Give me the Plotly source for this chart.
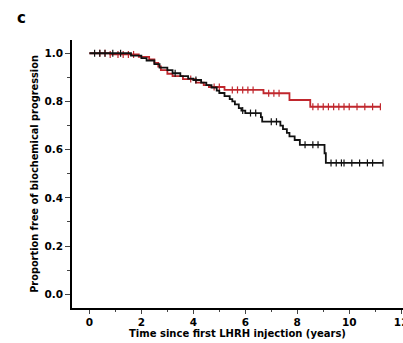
import numpy as np
import plotly.graph_objects as go

# Kaplan-Meier step data (time in years, proportion free)
black_t = [0, 1.6, 2.0, 2.2, 2.5, 2.7, 3.0, 3.2, 3.5, 3.8, 4.0, 4.3, 4.5, 4.7, 4.9, 5.0, 5.2, 5.4,
           5.5, 5.6, 5.75, 5.85, 6.0, 6.6, 6.65, 7.35, 7.45, 7.6, 7.7, 7.9, 8.1, 9.05, 9.1, 11.3]
black_s = [1.0, 0.99, 0.98, 0.97, 0.955, 0.94, 0.93, 0.917, 0.905, 0.895, 0.889, 0.878, 0.868, 0.858,
           0.845, 0.835, 0.822, 0.81, 0.80, 0.788, 0.772, 0.762, 0.752, 0.735, 0.716, 0.70, 0.685,
           0.67, 0.655, 0.64, 0.62, 0.585, 0.545, 0.545]
black_cens = [0.2, 0.4, 0.6, 0.9, 1.2, 3.3, 4.1, 5.9, 6.2, 6.4, 7.0, 7.2, 8.3, 8.6, 8.8, 9.3, 9.5,
              9.7, 9.8, 10.1, 10.4, 10.7, 10.9, 11.3]

red_t = [0, 0.8, 1.9, 2.3, 2.5, 2.65, 2.75, 3.0, 3.2, 3.6, 4.1, 4.4, 4.6, 5.2, 6.7, 7.7, 8.5, 11.2]
red_s = [1.0, 0.995, 0.985, 0.975, 0.96, 0.945, 0.93, 0.915, 0.905, 0.893, 0.878, 0.868, 0.86,
         0.848, 0.834, 0.806, 0.778, 0.778]
red_cens = [0.4, 0.6, 0.8, 1.1, 1.3, 1.5, 1.7, 3.9, 4.8, 5.0, 5.5, 5.7, 5.9, 6.1, 6.3, 6.9, 7.1,
            7.3, 8.6, 8.8, 9.0, 9.2, 9.4, 9.6, 9.8, 10.0, 10.3, 10.6, 10.9, 11.2]

x_ticks = [0, 2, 4, 6, 8, 10, 12]
y_ticks = [0.0, 0.2, 0.4, 0.6, 0.8, 1.0]

RED = "#c0272d"
BLACK = "#111111"


def surv_at(times, steps_t, steps_s):
    idx = np.searchsorted(np.array(steps_t), np.array(times), side="right") - 1
    return [steps_s[i] for i in idx]


fig = go.Figure()
for t, s, c, col in [(red_t, red_s, red_cens, RED), (black_t, black_s, black_cens, BLACK)]:
    fig.add_trace(go.Scatter(x=t, y=s, mode="lines", line=dict(color=col, width=1.8, shape="hv"),
                             showlegend=False, hoverinfo="skip"))
    fig.add_trace(go.Scatter(x=c, y=surv_at(c, t, s), mode="markers",
                             marker=dict(symbol="line-ns", size=5, line=dict(color=col, width=1.2)),
                             showlegend=False))

font = "DejaVu Sans"
fig.update_layout(
    width=403, height=343,
    margin=dict(l=72, r=0, t=40, b=35),
    paper_bgcolor="white", plot_bgcolor="white",
    font=dict(family=font, color="black"),
    xaxis=dict(range=[-0.67, 12.07], tickvals=x_ticks, showline=True, linecolor="black", linewidth=1.5,
               ticks="outside", ticklen=4, tickwidth=1, showgrid=False, zeroline=False,
               ticklabeloverflow="allow", automargin=False,
               tickfont=dict(size=10.5, family=font, weight="bold"),
               minor=dict(ticks="outside", ticklen=2, dtick=1, tick0=0, showgrid=False),
               title=dict(text="Time since first LHRH injection (years)", standoff=3,
                          font=dict(size=10, family=font, weight="bold"))),
    yaxis=dict(range=[-0.057, 1.055], tickvals=y_ticks, tickformat=".1f", showline=True,
               linecolor="black", linewidth=1.5, ticks="outside", ticklen=5, tickwidth=1,
               showgrid=False, zeroline=False, automargin=False,
               tickfont=dict(size=10.5, family=font, weight="bold"),
               minor=dict(ticks="outside", ticklen=3, dtick=0.1, tick0=0, showgrid=False),
               title=dict(text="Proportion free of biochemical progression", standoff=4,
                          font=dict(size=9.8, family=font, weight="bold"))),
    annotations=[dict(text="c", x=(21 - 72) / (403 - 72), y=1 + (40 - 18) / (343 - 75),
                      xref="paper", yref="paper", showarrow=False, xanchor="center",
                      yanchor="middle", font=dict(size=15, family=font, weight="bold"))],
)

fig.write_html("out.html")
